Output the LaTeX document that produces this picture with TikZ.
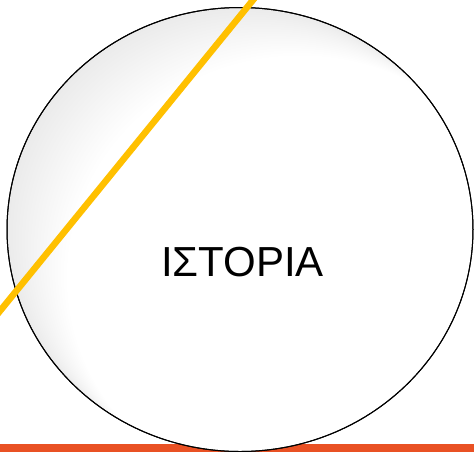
\documentclass[tikz,border=0pt]{standalone}
\usepackage{fontspec}
\setmainfont{Liberation Sans}
\usetikzlibrary{shapes.geometric}
\definecolor{barorange}{RGB}{233,81,36}
\definecolor{gold}{RGB}{255,192,0}
\tikzset{
  bigcirc/.style={ellipse, draw=black, line width=1pt, fill=white, inner sep=0pt,
    minimum width=466pt, minimum height=444pt},
  title/.style={font=\fontsize{42}{48}\selectfont, inner sep=0pt, anchor=base},
  goldline/.style={draw=gold, line width=6.5pt},
  bar/.style={fill=barorange, draw=none}
}
\begin{document}
\begin{tikzpicture}[x=1pt,y=-1pt]
\useasboundingbox (0,0) rectangle (474,451);
\fill[white] (0,0) rectangle (474,451);
% bottom bar
\path[bar] (-2,444) rectangle (476,453);
% circle
\node[bigcirc] (circ) at (240,229.5) {};
% soft inner shadow on the upper left
\begin{scope}
\clip (240,229.5) ellipse [x radius=232.5, y radius=221.5];
\foreach \d in {3,6,...,60} {
  \fill[black, opacity=0.0045, even odd rule]
    (240,229.5) ellipse [x radius=233, y radius=222]
    (240+\d,229.5+0.8*\d) ellipse [x radius=233, y radius=222];
}
\end{scope}
\draw[line width=1pt] (circ.center) ellipse [x radius=233, y radius=222];
% label
\node[title] (lbl) at (242.5,276) {ΙΣΤΟΡΙΑ};
% diagonal gold line
\coordinate (g1) at (-8,320.8);
\coordinate (g2) at (260,-8.6);
\draw[goldline] (g1) -- (g2);
\end{tikzpicture}
\end{document}
